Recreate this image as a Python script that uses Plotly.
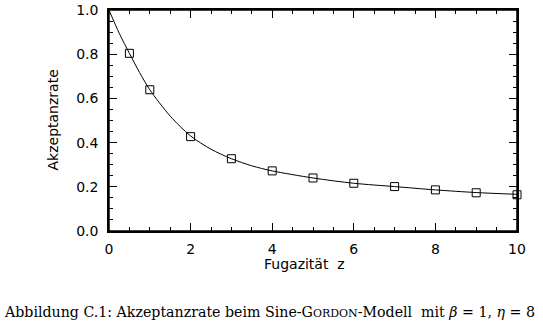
import plotly.graph_objects as go

# Measured points (open squares)
z_pts = [0.5, 1, 2, 3, 4, 5, 6, 7, 8, 9, 10]
acc_pts = [0.804, 0.639, 0.427, 0.327, 0.272, 0.240, 0.216, 0.201, 0.186, 0.173, 0.164]

# Fitted curve
z_curve = [0, 0.25, 0.5, 0.75, 1, 1.5, 2, 2.5, 3, 3.5, 4, 5, 6, 7, 8, 9, 10]
acc_curve = [1.0, 0.895, 0.804, 0.717, 0.639, 0.520, 0.430, 0.370, 0.327, 0.295, 0.272, 0.240, 0.216, 0.201, 0.186, 0.174, 0.166]

x_ticks = [0, 2, 4, 6, 8, 10]
x_tick_labels = ["0", "2", "4", "6", "8", "10"]
y_ticks = [0.0, 0.2, 0.4, 0.6, 0.8, 1.0]
y_tick_labels = ["0.0", "0.2", "0.4", "0.6", "0.8", "1.0"]

x_title = "Fugazität  z"
y_title = "Akzeptanzrate"
caption = ("Abbildung C.1: Akzeptanzrate beim Sine-G<span style='font-size:11px'>ORDON</span>-Modell"
           "  mit <i>β</i> = 1, <i>η</i> = 8")

tick_font = dict(family="DejaVu Sans", size=14, color="black")

fig = go.Figure()
fig.add_trace(go.Scatter(x=z_curve, y=acc_curve, mode="lines",
                         line=dict(color="black", width=1, shape="spline", smoothing=0.8),
                         hoverinfo="skip", showlegend=False))
fig.add_trace(go.Scatter(x=z_pts, y=acc_pts, mode="markers",
                         marker=dict(symbol="square-open", size=8, color="black",
                                     line=dict(color="black", width=1)),
                         showlegend=False, cliponaxis=False))

axis_common = dict(showgrid=False, zeroline=False, showline=True, linecolor="black",
                   linewidth=1.5, ticks="inside", ticklen=8,
                   tickcolor="black", tickwidth=1, tickfont=tick_font,
                   ticklabeloverflow="allow")
x_minor = dict(ticks="inside", ticklen=4, dtick=0.5, tickcolor="black", tickwidth=1, showgrid=False)
y_minor = dict(ticks="inside", ticklen=4, dtick=0.05, tickcolor="black", tickwidth=1, showgrid=False)

fig.update_layout(
    xaxis=dict(range=[0, 10], tickvals=x_ticks, ticktext=x_tick_labels, minor=x_minor,
               ticklabelstandoff=4, mirror="allticks", **axis_common),
    yaxis=dict(range=[0, 1], tickvals=y_ticks, ticktext=y_tick_labels, minor=y_minor,
               ticklabelstandoff=6, mirror="allticks", **axis_common),
)

# frame around the plotting area
fig.add_shape(type="rect", xref="paper", yref="paper", x0=0, y0=0, x1=1, y1=1,
              line=dict(color="black", width=1.5), layer="above")

fig.add_annotation(text=x_title, xref="paper", yref="paper", x=0.48, y=0,
                   yshift=-33, xanchor="center", yanchor="middle", showarrow=False,
                   font=dict(family="DejaVu Sans", size=14, color="black"))
fig.add_annotation(text=y_title, xref="paper", yref="paper", x=0, y=0.5,
                   xshift=-57, xanchor="center", yanchor="middle", textangle=-90, showarrow=False,
                   font=dict(family="DejaVu Sans", size=14, color="black"))
fig.add_annotation(text=caption, xref="paper", yref="paper", x=0, y=0,
                   xshift=-107, yshift=-81, xanchor="left", yanchor="middle", showarrow=False,
                   font=dict(family="DejaVu Serif", size=14.2, color="black"))

fig.update_layout(width=543, height=325, margin=dict(l=109, r=26, t=2, b=94),
                  paper_bgcolor="white", plot_bgcolor="white")

fig.write_html("out.html")
